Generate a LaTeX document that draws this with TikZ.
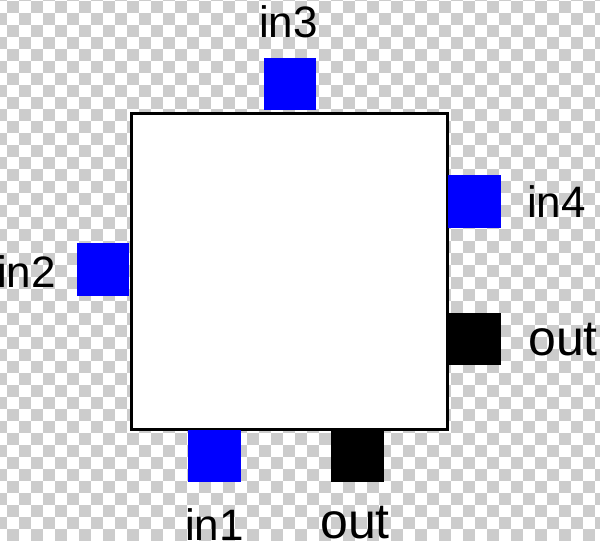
\documentclass[tikz,border=0pt]{standalone}
\usepackage{fontspec}
\setmainfont{Liberation Sans}
\definecolor{checker}{RGB}{204,204,204}
\definecolor{portblue}{RGB}{0,0,255}
\tikzset{
  port/.style={fill=portblue, draw=none},
  outport/.style={fill=black, draw=none},
  lbl/.style={anchor=base west, inner sep=0pt, font=\fontsize{44}{50}\selectfont},
  olbl/.style={anchor=base west, inner sep=0pt, font=\fontsize{50}{56}\selectfont},
  body/.style={fill=white, draw=black, line width=3pt}
}
\begin{document}
\begin{tikzpicture}[x=1pt, y=-1pt]
\useasboundingbox (0,0) rectangle (600,541);
% checkerboard background
\fill[white] (0,0) rectangle (600,541);
\begin{scope}
\clip (0,0) rectangle (600,541);
\foreach \i in {-1,...,50} {
  \foreach \j in {-1,...,45} {
    \pgfmathtruncatemacro{\cellpar}{mod(\i+\j+100,2)}
    \ifnum\cellpar=0
      \fill[checker] (7+12*\i,1+12*\j) rectangle ++(12,12);
    \fi
  }
}
\end{scope}
% main block
\node[body, minimum width=316pt, minimum height=316pt, inner sep=0pt, anchor=north west] (blk) at (130,112) {};
% ports
\path[port] (264,58) rectangle (316,110);
\path[port] (448,175) rectangle (501,228);
\path[outport] (448,313) rectangle (501,365);
\path[port] (77,243) rectangle (129,296);
\path[port] (188,430) rectangle (241,482);
\path[outport] (331,430) rectangle (384,482);
% labels
\node[lbl] (lin3) at (259,37) {in3};
\node[lbl] (lin4) at (527,217) {in4};
\node[olbl] (lout1) at (528,355) {out};
\node[lbl] (lin2) at (-3,287) {in2};
\node[lbl] (lin1) at (185,540) {in1};
\node[olbl] (lout2) at (320,538) {out};
\end{tikzpicture}
\end{document}
